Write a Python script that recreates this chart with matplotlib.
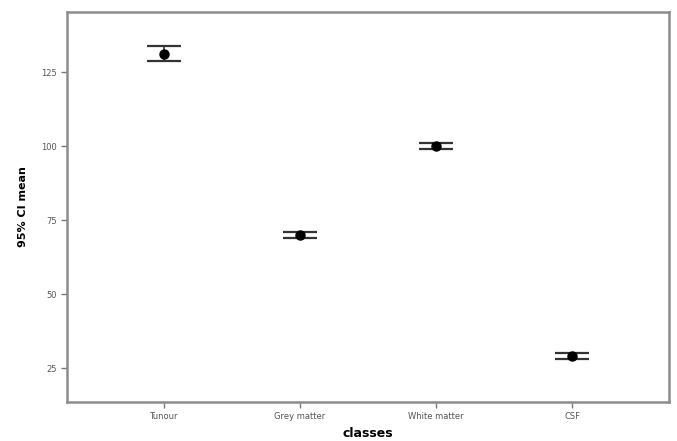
import numpy as np
import matplotlib
matplotlib.use("Agg")
import matplotlib.pyplot as plt

# values
classes = ["Tunour", "Grey matter", "White matter", "CSF"]
means = [131.2, 70.0, 100.2, 29.2]
ci_low = [128.9, 68.9, 99.2, 28.0]
ci_high = [134.0, 71.2, 101.2, 30.3]
yticks = [25, 50, 75, 100, 125]

x = np.arange(1, len(classes) + 1)
means = np.array(means)
err = [means - np.array(ci_low), np.array(ci_high) - means]

fig = plt.figure(figsize=(6.77, 4.41), dpi=100)
ax = fig.add_axes([67/677, 1 - 402/441, (669-67)/677, (402-12)/441])

ax.errorbar(x, means, yerr=err, fmt="o", color="black", markersize=6.5,
            ecolor="#333333", elinewidth=1.2, capsize=12.5, capthick=1.6)

ax.set_xlim(0.29, 4.71)
ax.set_ylim(13.6, 145.4)
ax.set_xticks(x)
ax.set_xticklabels(classes)
ax.set_yticks(yticks)

for s in ax.spines.values():
    s.set_color("#8c8c8c")
    s.set_linewidth(1.8)
ax.tick_params(axis="both", colors="#777777", labelcolor="#555555",
               labelsize=6, length=4, width=1, direction="out")

ax.set_ylabel("95% CI mean", fontsize=8, fontweight="bold", labelpad=9)
ax.set_xlabel("classes", fontsize=9, fontweight="bold", labelpad=4)

fig.savefig("out.png", dpi=100)
